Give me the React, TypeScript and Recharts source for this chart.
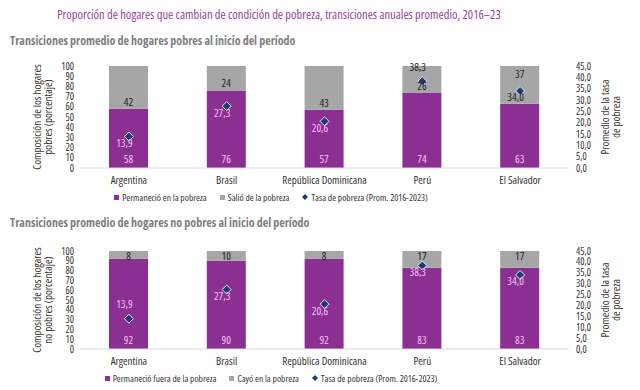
import React from "react";
import {
  Bar,
  ComposedChart,
  LabelList,
  Scatter,
  XAxis,
  YAxis,
} from "recharts";

const countries = ["Argentina", "Brasil", "República Dominicana", "Perú", "El Salvador"];
const stayedPoor = [58, 76, 57, 74, 63];
const leftPoverty = [42, 24, 43, 26, 37];
const stayedNonPoor = [92, 90, 92, 83, 83];
const fellIntoPoverty = [8, 10, 8, 17, 17];
const povertyRate = [13.9, 27.3, 20.6, 38.3, 34.0];
const leftTicks = [0, 10, 20, 30, 40, 50, 60, 70, 80, 90, 100];
const rightTicks = [0, 5, 10, 15, 20, 25, 30, 35, 40, 45];

const PURPLE = "#8b2f93";
const GRAY = "#a6a6a6";
const NAVY = "#1f3b73";
const PINK = "#f6c4f2";
const FONT = "'Open Sans', sans-serif";

const topData = countries.map((c, i) => ({
  country: c,
  base: stayedPoor[i],
  rest: leftPoverty[i],
  rate: povertyRate[i],
}));
const bottomData = countries.map((c, i) => ({
  country: c,
  base: stayedNonPoor[i],
  rest: fellIntoPoverty[i],
  rate: povertyRate[i],
}));

const fmt = (v: number) => v.toFixed(1).replace(".", ",");

const Diamond = (props: any) => {
  const { cx, cy } = props;
  const r = 4.5;
  return (
    <polygon
      points={`${cx},${cy - r} ${cx + r},${cy} ${cx},${cy + r} ${cx - r},${cy}`}
      fill={NAVY}
      stroke="#e8e8f0"
      strokeWidth={1}
    />
  );
};

const condensed = { fontStretch: "condensed" } as const;

function PanelChart({ data, height, leftLabel, rateAbove, rateDark, restTop, restMode }: any) {
  const tickStyle = { fontSize: 10, fill: "#333", fontFamily: FONT, fontStretch: "condensed" };
  const xTickStyle = { ...tickStyle, fontSize: 11 };

  const rateLabel = (p: any) => {
    const { x, y, value, index } = p;
    const name = data[index].country;
    const above = rateAbove.includes(name);
    const dark = rateDark.includes(name);
    return (
      <text
        x={x}
        y={above ? y - 6 : y + 15}
        textAnchor="middle"
        fontSize={11}
        fontFamily={FONT}
        style={condensed}
        fill={dark ? "#222" : PINK}
      >
        {fmt(value)}
      </text>
    );
  };

  const restLabel = (p: any) => {
    const { x, y, width, height: h, value, index } = p;
    const name = data[index].country;
    let ty;
    if (restMode === "top" || restTop.includes(name)) ty = y + (restMode === "top" ? 9 : 12);
    else ty = y + h - 3;
    return (
      <text
        x={x + width / 2}
        y={ty}
        textAnchor="middle"
        fontSize={11}
        fontFamily={FONT}
        style={condensed}
        fill="#222"
      >
        {value}
      </text>
    );
  };

  const baseLabel = (p: any) => {
    const { x, y, width, height: h, value } = p;
    return (
      <text
        x={x + width / 2}
        y={y + h - 5}
        textAnchor="middle"
        fontSize={11}
        fontFamily={FONT}
        style={condensed}
        fill={PINK}
      >
        {value}
      </text>
    );
  };

  return (
    <ComposedChart
      width={640}
      height={height}
      data={data}
      margin={{ top: 16, right: 0, bottom: 0, left: 0 }}
      barCategoryGap={0}
    >
      <XAxis
        dataKey="country"
        tickLine={false}
        axisLine={{ stroke: "#d9d9d9" }}
        tick={xTickStyle}
        interval={0}
        height={20}
      />
      <YAxis
        yAxisId="left"
        domain={[0, 100]}
        ticks={leftTicks}
        interval={0}
        tickLine={false}
        axisLine={false}
        tick={tickStyle}
        width={80}
        tickMargin={0}
        label={(lp: any) => {
          const { viewBox } = lp;
          const cy = viewBox.y + viewBox.height / 2;
          return (
            <text
              transform={`translate(46, ${cy}) rotate(-90)`}
              textAnchor="middle"
              fontSize={11}
              fontFamily={FONT}
              style={{ fontStretch: "semi-condensed" }}
              fill="#333"
            >
              <tspan x={0} dy={-5.5}>Composición de los hogares</tspan>
              <tspan x={0} dy={11}>{leftLabel}</tspan>
            </text>
          );
        }}
      />
      <YAxis
        yAxisId="right"
        orientation="right"
        domain={[0, 45]}
        ticks={rightTicks}
        interval={0}
        tickLine={false}
        axisLine={false}
        tick={tickStyle}
        tickFormatter={fmt}
        width={71}
        tickMargin={1}
        label={(lp: any) => {
          const { viewBox } = lp;
          const cy = viewBox.y + viewBox.height / 2;
          return (
            <text
              transform={`translate(614, ${cy}) rotate(-90)`}
              textAnchor="middle"
              fontSize={11}
              fontFamily={FONT}
              style={{ fontStretch: "semi-condensed" }}
              fill="#333"
            >
              <tspan x={0} dy={-5}>Promedio de la tasa</tspan>
              <tspan x={0} dy={10.5}>de pobreza</tspan>
            </text>
          );
        }}
      />
      <Bar yAxisId="left" dataKey="base" stackId="s" fill={PURPLE} barSize={39} isAnimationActive={false}>
        <LabelList dataKey="base" content={baseLabel} />
      </Bar>
      <Bar yAxisId="left" dataKey="rest" stackId="s" fill={GRAY} barSize={39} isAnimationActive={false}>
        <LabelList dataKey="rest" content={restLabel} />
      </Bar>
      <Scatter yAxisId="right" dataKey="rate" shape={<Diamond />} isAnimationActive={false}>
        <LabelList dataKey="rate" content={rateLabel} />
      </Scatter>
    </ComposedChart>
  );
}

function LegendRow({ labels, top }: { labels: string[]; top: number }) {
  const item = (icon: React.ReactNode, text: string, last?: boolean) => (
    <span style={{ display: "inline-flex", alignItems: "center", marginRight: last ? 0 : 13 }}>
      {icon}
      <span style={{ marginLeft: 3 }}>{text}</span>
    </span>
  );
  return (
    <div
      style={{
        position: "absolute",
        top,
        left: 0,
        width: 542,
        textAlign: "center",
        fontFamily: FONT,
        fontStretch: "condensed",
        fontSize: 9.5,
        color: "#333",
        whiteSpace: "nowrap",
      }}
    >
      {item(<span style={{ width: 5, height: 5, background: PURPLE, display: "inline-block" }} />, labels[0])}
      {item(<span style={{ width: 5, height: 5, background: GRAY, display: "inline-block" }} />, labels[1])}
      {item(
        <svg width={6} height={6}>
          <polygon points="3,0 6,3 3,6 0,3" fill={NAVY} />
        </svg>,
        labels[2],
        true
      )}
    </div>
  );
}

export default function App() {
  return (
    <div
      style={{
        position: "absolute",
        top: 0,
        left: 0,
        width: 640,
        height: 390,
        background: "#fff",
        fontFamily: FONT,
        overflow: "hidden",
      }}
    >
      <div
        style={{
          position: "absolute",
          top: 6,
          left: 57,
          fontSize: 12.5,
          color: "#9a3ea0",
          fontStretch: "condensed",
          whiteSpace: "nowrap",
        }}
      >
        Proporción de hogares que cambian de condición de pobreza, transiciones anuales promedio, 2016–23
      </div>
      <div
        style={{
          position: "absolute",
          top: 32,
          left: 10,
          fontSize: 12,
          fontWeight: 700,
          color: "#7f7f7f",
          fontStretch: "condensed",
          whiteSpace: "nowrap",
        }}
      >
        Transiciones promedio de hogares pobres al inicio del período
      </div>
      <div style={{ position: "absolute", top: 50, left: 0 }}>
        <PanelChart
          data={topData}
          height={138}
          leftLabel="pobres (porcentaje)"
          rateAbove={["Perú"]}
          rateDark={["Perú", "El Salvador"]}
          restTop={["El Salvador"]}
          restMode="bottom"
        />
      </div>
      <LegendRow
        top={190}
        labels={["Permaneció en la pobreza", "Salió de la pobreza", "Tasa de pobreza (Prom. 2016-2023)"]}
      />
      <div
        style={{
          position: "absolute",
          top: 214,
          left: 10,
          fontSize: 12,
          fontWeight: 700,
          color: "#7f7f7f",
          fontStretch: "condensed",
          whiteSpace: "nowrap",
        }}
      >
        Transiciones promedio de hogares no pobres al inicio del período
      </div>
      <div style={{ position: "absolute", top: 235, left: 0 }}>
        <PanelChart
          data={bottomData}
          height={134}
          leftLabel="no pobres (porcentaje)"
          rateAbove={["Argentina"]}
          rateDark={[]}
          restTop={[]}
          restMode="top"
        />
      </div>
      <LegendRow
        top={371}
        labels={["Permaneció fuera de la pobreza", "Cayó en la pobreza", "Tasa de pobreza (Prom. 2016-2023)"]}
      />
    </div>
  );
}
